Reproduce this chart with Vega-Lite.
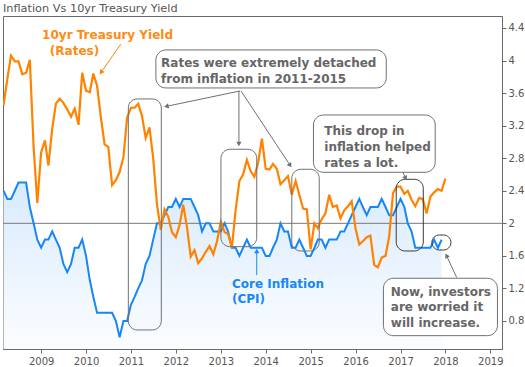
{
  "$schema": "https://vega.github.io/schema/vega-lite/v6.json",
  "width": 499,
  "height": 333,
  "autosize": {"type": "none"},
  "padding": {"left": 3, "top": 16, "right": 23, "bottom": 18},
  "background": "white",
  "title": {"text": "Inflation Vs 10yr Treasury Yield", "anchor": "start", "frame": "group", "offset": 2, "font": "DejaVu Sans", "fontSize": 11.3, "fontWeight": "normal", "color": "#555555"},
  "config": {"view": {"stroke": "#6a6a6a", "strokeWidth": 1}, "font": "DejaVu Sans"},
  "datasets": {
    "series": [
      {"date": "2008-03-01", "rate": 3.45, "cpi": 2.4},
      {"date": "2008-04-01", "rate": 3.77, "cpi": 2.3},
      {"date": "2008-05-01", "rate": 4.06, "cpi": 2.3},
      {"date": "2008-06-01", "rate": 3.99, "cpi": 2.4},
      {"date": "2008-07-01", "rate": 3.99, "cpi": 2.5},
      {"date": "2008-08-01", "rate": 3.83, "cpi": 2.5},
      {"date": "2008-09-01", "rate": 3.85, "cpi": 2.5},
      {"date": "2008-10-01", "rate": 4.01, "cpi": 2.2},
      {"date": "2008-11-01", "rate": 2.93, "cpi": 2.0},
      {"date": "2008-12-01", "rate": 2.25, "cpi": 1.8},
      {"date": "2009-01-01", "rate": 2.87, "cpi": 1.7},
      {"date": "2009-02-01", "rate": 3.02, "cpi": 1.8},
      {"date": "2009-03-01", "rate": 2.71, "cpi": 1.8},
      {"date": "2009-04-01", "rate": 3.16, "cpi": 1.9},
      {"date": "2009-05-01", "rate": 3.47, "cpi": 1.8},
      {"date": "2009-06-01", "rate": 3.53, "cpi": 1.7},
      {"date": "2009-07-01", "rate": 3.48, "cpi": 1.5},
      {"date": "2009-08-01", "rate": 3.40, "cpi": 1.4},
      {"date": "2009-09-01", "rate": 3.31, "cpi": 1.5},
      {"date": "2009-10-01", "rate": 3.41, "cpi": 1.7},
      {"date": "2009-11-01", "rate": 3.21, "cpi": 1.7},
      {"date": "2009-12-01", "rate": 3.85, "cpi": 1.8},
      {"date": "2010-01-01", "rate": 3.63, "cpi": 1.6},
      {"date": "2010-02-01", "rate": 3.61, "cpi": 1.3},
      {"date": "2010-03-01", "rate": 3.84, "cpi": 1.1},
      {"date": "2010-04-01", "rate": 3.69, "cpi": 0.9},
      {"date": "2010-05-01", "rate": 3.31, "cpi": 0.9},
      {"date": "2010-06-01", "rate": 2.97, "cpi": 0.9},
      {"date": "2010-07-01", "rate": 2.94, "cpi": 0.9},
      {"date": "2010-08-01", "rate": 2.47, "cpi": 0.9},
      {"date": "2010-09-01", "rate": 2.53, "cpi": 0.8},
      {"date": "2010-10-01", "rate": 2.63, "cpi": 0.6},
      {"date": "2010-11-01", "rate": 2.81, "cpi": 0.8},
      {"date": "2010-12-01", "rate": 3.30, "cpi": 0.8},
      {"date": "2011-01-01", "rate": 3.42, "cpi": 1.0},
      {"date": "2011-02-01", "rate": 3.42, "cpi": 1.1},
      {"date": "2011-03-01", "rate": 3.47, "cpi": 1.2},
      {"date": "2011-04-01", "rate": 3.32, "cpi": 1.3},
      {"date": "2011-05-01", "rate": 3.05, "cpi": 1.5},
      {"date": "2011-06-01", "rate": 3.18, "cpi": 1.6},
      {"date": "2011-07-01", "rate": 2.80, "cpi": 1.8},
      {"date": "2011-08-01", "rate": 2.23, "cpi": 2.0},
      {"date": "2011-09-01", "rate": 1.92, "cpi": 2.0},
      {"date": "2011-10-01", "rate": 2.17, "cpi": 2.1},
      {"date": "2011-11-01", "rate": 2.08, "cpi": 2.2},
      {"date": "2011-12-01", "rate": 1.89, "cpi": 2.2},
      {"date": "2012-01-01", "rate": 1.83, "cpi": 2.3},
      {"date": "2012-02-01", "rate": 1.98, "cpi": 2.2},
      {"date": "2012-03-01", "rate": 2.23, "cpi": 2.3},
      {"date": "2012-04-01", "rate": 1.95, "cpi": 2.3},
      {"date": "2012-05-01", "rate": 1.59, "cpi": 2.3},
      {"date": "2012-06-01", "rate": 1.67, "cpi": 2.2},
      {"date": "2012-07-01", "rate": 1.51, "cpi": 2.1},
      {"date": "2012-08-01", "rate": 1.57, "cpi": 1.9},
      {"date": "2012-09-01", "rate": 1.65, "cpi": 2.0},
      {"date": "2012-10-01", "rate": 1.72, "cpi": 2.0},
      {"date": "2012-11-01", "rate": 1.62, "cpi": 1.9},
      {"date": "2012-12-01", "rate": 1.78, "cpi": 1.9},
      {"date": "2013-01-01", "rate": 2.02, "cpi": 1.9},
      {"date": "2013-02-01", "rate": 1.89, "cpi": 2.0},
      {"date": "2013-03-01", "rate": 1.87, "cpi": 1.9},
      {"date": "2013-04-01", "rate": 1.70, "cpi": 1.7},
      {"date": "2013-05-01", "rate": 2.16, "cpi": 1.7},
      {"date": "2013-06-01", "rate": 2.52, "cpi": 1.6},
      {"date": "2013-07-01", "rate": 2.60, "cpi": 1.7},
      {"date": "2013-08-01", "rate": 2.78, "cpi": 1.8},
      {"date": "2013-09-01", "rate": 2.64, "cpi": 1.7},
      {"date": "2013-10-01", "rate": 2.57, "cpi": 1.7},
      {"date": "2013-11-01", "rate": 2.75, "cpi": 1.7},
      {"date": "2013-12-01", "rate": 3.04, "cpi": 1.7},
      {"date": "2014-01-01", "rate": 2.67, "cpi": 1.6},
      {"date": "2014-02-01", "rate": 2.66, "cpi": 1.6},
      {"date": "2014-03-01", "rate": 2.73, "cpi": 1.7},
      {"date": "2014-04-01", "rate": 2.67, "cpi": 1.8},
      {"date": "2014-05-01", "rate": 2.48, "cpi": 2.0},
      {"date": "2014-06-01", "rate": 2.53, "cpi": 1.9},
      {"date": "2014-07-01", "rate": 2.58, "cpi": 1.9},
      {"date": "2014-08-01", "rate": 2.35, "cpi": 1.7},
      {"date": "2014-09-01", "rate": 2.52, "cpi": 1.7},
      {"date": "2014-10-01", "rate": 2.35, "cpi": 1.8},
      {"date": "2014-11-01", "rate": 2.18, "cpi": 1.7},
      {"date": "2014-12-01", "rate": 2.17, "cpi": 1.6},
      {"date": "2015-01-01", "rate": 1.68, "cpi": 1.6},
      {"date": "2015-02-01", "rate": 2.00, "cpi": 1.7},
      {"date": "2015-03-01", "rate": 1.94, "cpi": 1.8},
      {"date": "2015-04-01", "rate": 2.05, "cpi": 1.8},
      {"date": "2015-05-01", "rate": 2.12, "cpi": 1.7},
      {"date": "2015-06-01", "rate": 2.35, "cpi": 1.8},
      {"date": "2015-07-01", "rate": 2.20, "cpi": 1.8},
      {"date": "2015-08-01", "rate": 2.22, "cpi": 1.8},
      {"date": "2015-09-01", "rate": 2.06, "cpi": 1.9},
      {"date": "2015-10-01", "rate": 2.16, "cpi": 1.9},
      {"date": "2015-11-01", "rate": 2.21, "cpi": 2.0},
      {"date": "2015-12-01", "rate": 2.27, "cpi": 2.1},
      {"date": "2016-01-01", "rate": 1.94, "cpi": 2.2},
      {"date": "2016-02-01", "rate": 1.74, "cpi": 2.3},
      {"date": "2016-03-01", "rate": 1.78, "cpi": 2.2},
      {"date": "2016-04-01", "rate": 1.83, "cpi": 2.1},
      {"date": "2016-05-01", "rate": 1.85, "cpi": 2.2},
      {"date": "2016-06-01", "rate": 1.49, "cpi": 2.2},
      {"date": "2016-07-01", "rate": 1.46, "cpi": 2.2},
      {"date": "2016-08-01", "rate": 1.58, "cpi": 2.3},
      {"date": "2016-09-01", "rate": 1.60, "cpi": 2.2},
      {"date": "2016-10-01", "rate": 1.84, "cpi": 2.1},
      {"date": "2016-11-01", "rate": 2.37, "cpi": 2.1},
      {"date": "2016-12-01", "rate": 2.45, "cpi": 2.2},
      {"date": "2017-01-01", "rate": 2.45, "cpi": 2.3},
      {"date": "2017-02-01", "rate": 2.36, "cpi": 2.2},
      {"date": "2017-03-01", "rate": 2.40, "cpi": 2.0},
      {"date": "2017-04-01", "rate": 2.29, "cpi": 1.9},
      {"date": "2017-05-01", "rate": 2.21, "cpi": 1.7},
      {"date": "2017-06-01", "rate": 2.31, "cpi": 1.7},
      {"date": "2017-07-01", "rate": 2.30, "cpi": 1.7},
      {"date": "2017-08-01", "rate": 2.12, "cpi": 1.7},
      {"date": "2017-09-01", "rate": 2.33, "cpi": 1.7},
      {"date": "2017-10-01", "rate": 2.38, "cpi": 1.8},
      {"date": "2017-11-01", "rate": 2.42, "cpi": 1.7},
      {"date": "2017-12-01", "rate": 2.40, "cpi": 1.8},
      {"date": "2018-01-01", "rate": 2.55, "cpi": null}
    ],
    "levels": [
      {"date": "2008-02-26", "date2": "2019-04-06", "value": 2}
    ],
    "boxes": [
      {"date": "2010-12-11", "date2": "2011-09-05", "value": 3.528, "value2": 0.690, "kind": "frame"},
      {"date": "2013-01-02", "date2": "2013-10-20", "value": 2.910, "value2": 1.713, "kind": "frame"},
      {"date": "2014-08-01", "date2": "2015-03-12", "value": 2.664, "value2": 1.660, "kind": "frame"},
      {"date": "2016-11-27", "date2": "2017-07-05", "value": 2.541, "value2": 1.660, "kind": "dark"},
      {"date": "2017-09-13", "date2": "2018-02-15", "value": 1.857, "value2": 1.672, "kind": "ring"},
      {"date": "2011-07-23", "date2": "2016-09-07", "value": 4.130, "value2": 3.663, "kind": "text"},
      {"date": "2015-01-24", "date2": "2017-10-10", "value": 3.331, "value2": 2.627, "kind": "text"},
      {"date": "2016-08-15", "date2": "2019-02-28", "value": 1.325, "value2": 0.620, "kind": "text"}
    ],
    "arrows": [
      {"id": "A1", "date": "2010-05-03", "value": 3.853, "date2": "2010-10-10", "value2": 4.200},
      {"id": "A2", "date": "2011-10-16", "value": 3.437, "date2": "2013-06-06", "value2": 3.626},
      {"id": "A3", "date": "2013-05-28", "value": 2.975, "date2": "2013-05-28", "value2": 3.626},
      {"id": "A4", "date": "2014-07-19", "value": 2.711, "date2": "2013-06-14", "value2": 3.626},
      {"id": "A5", "date": "2017-02-11", "value": 2.554, "date2": "2017-01-21", "value2": 2.627},
      {"id": "A6", "date": "2018-01-10", "value": 1.603, "date2": "2018-04-03", "value2": 1.333},
      {"id": "A7", "date": "2013-10-20", "value": 1.660, "date2": "2013-10-20", "value2": 1.366}
    ],
    "notes": [
      {"date": "2009-01-09", "value": 4.265, "text": "10yr Treasury Yield", "kind": "rate"},
      {"date": "2009-03-13", "value": 4.068, "text": "(Rates)", "kind": "rate"},
      {"date": "2011-09-03", "value": 3.921, "text": "Rates were extremely detached", "kind": "note"},
      {"date": "2011-09-03", "value": 3.724, "text": "from inflation in 2011-2015", "kind": "note"},
      {"date": "2015-04-22", "value": 3.086, "text": "This drop in", "kind": "note"},
      {"date": "2015-04-22", "value": 2.889, "text": "inflation helped", "kind": "note"},
      {"date": "2015-04-22", "value": 2.692, "text": "rates a lot.", "kind": "note"},
      {"date": "2016-10-14", "value": 1.108, "text": "Now, investors", "kind": "note"},
      {"date": "2016-10-14", "value": 0.917, "text": "are worried it", "kind": "note"},
      {"date": "2016-10-14", "value": 0.727, "text": "will increase.", "kind": "note"},
      {"date": "2013-04-02", "value": 1.206, "text": "Core Inflation", "kind": "cpi"},
      {"date": "2013-04-02", "value": 1.016, "text": "(CPI)", "kind": "cpi"}
    ]
  },
  "encoding": {
    "x": {"field": "date", "type": "temporal",
      "scale": {"type": "utc", "domain": [{"year": 2008, "month": 2, "date": 26, "utc": true}, {"year": 2019, "month": 4, "date": 6, "utc": true}]},
      "axis": {"title": null, "values": [{"year": 2009, "utc": true}, {"year": 2010, "utc": true}, {"year": 2011, "utc": true}, {"year": 2012, "utc": true}, {"year": 2013, "utc": true}, {"year": 2014, "utc": true}, {"year": 2015, "utc": true}, {"year": 2016, "utc": true}, {"year": 2017, "utc": true}, {"year": 2018, "utc": true}, {"year": 2019, "utc": true}],
        "format": "%Y", "labelFont": "DejaVu Sans", "labelFontSize": 10, "labelColor": "#555555", "tickColor": "#6a6a6a", "domainColor": "#6a6a6a", "tickSize": 4, "labelPadding": 3, "grid": false, "labelFlush": false, "labelOverlap": false}},
    "y": {"field": "value", "type": "quantitative",
      "scale": {"domain": [0.456, 4.547], "zero": false, "nice": false},
      "axis": {"orient": "right", "title": null, "values": [0.8, 1.2, 1.6, 2, 2.4, 2.8, 3.2, 3.6, 4, 4.4], "format": "~g", "labelFont": "DejaVu Sans", "labelFontSize": 10, "labelColor": "#555555", "tickColor": "#6a6a6a", "domainColor": "#6a6a6a", "tickSize": 4, "labelPadding": 2, "grid": false, "labelFlush": false, "labelOverlap": false}}
  },
  "layer": [
    {
      "data": {"name": "series"},
      "transform": [{"fold": ["rate", "cpi"], "as": ["series", "value"]}, {"filter": "datum.series == 'cpi' && datum.value != null"}],
      "mark": {"type": "area", "clip": true, "color": {"gradient": "linear", "x1": 0, "y1": 0, "x2": 0, "y2": 1, "stops": [{"offset": 0, "color": "#d9eafc"}, {"offset": 1, "color": "#fbfdff"}]}},
      "encoding": {"y2": {"datum": 0.456}}
    },
    {
      "data": {"name": "levels"},
      "mark": {"type": "rule", "color": "#777777", "strokeWidth": 1},
      "encoding": {"x2": {"field": "date2"}}
    },
    {
      "data": {"name": "series"},
      "transform": [{"fold": ["rate", "cpi"], "as": ["series", "value"]}, {"filter": "datum.series == 'cpi' && datum.value != null"}],
      "mark": {"type": "line", "clip": true, "color": "#1687f5", "strokeWidth": 2},
      "encoding": {}
    },
    {
      "data": {"name": "series"},
      "transform": [{"fold": ["rate", "cpi"], "as": ["series", "value"]}, {"filter": "datum.series == 'rate'"}],
      "mark": {"type": "line", "clip": true, "color": "#ff8300", "strokeWidth": 2.2},
      "encoding": {}
    },
    {
      "data": {"name": "boxes"},
      "transform": [{"filter": "datum.kind == 'frame'"}],
      "mark": {"type": "rect", "fill": null, "fillOpacity": 0, "stroke": "#707070", "strokeWidth": 1, "cornerRadius": 9},
      "encoding": {"x2": {"field": "date2"}, "y2": {"field": "value2"}}
    },
    {
      "data": {"name": "boxes"},
      "transform": [{"filter": "datum.kind == 'dark'"}],
      "mark": {"type": "rect", "fill": null, "fillOpacity": 0, "stroke": "#3a3a3a", "strokeWidth": 1, "cornerRadius": 9},
      "encoding": {"x2": {"field": "date2"}, "y2": {"field": "value2"}}
    },
    {
      "data": {"name": "boxes"},
      "transform": [{"filter": "datum.kind == 'ring'"}],
      "mark": {"type": "rect", "fill": null, "fillOpacity": 0, "stroke": "#3a3a3a", "strokeWidth": 1, "cornerRadius": 8},
      "encoding": {"x2": {"field": "date2"}, "y2": {"field": "value2"}}
    },
    {
      "data": {"name": "boxes"},
      "transform": [{"filter": "datum.kind == 'text'"}],
      "mark": {"type": "rect", "fill": "white", "stroke": "#707070", "strokeWidth": 1, "cornerRadius": 10},
      "encoding": {"x2": {"field": "date2"}, "y2": {"field": "value2"}}
    },
    {
      "data": {"name": "arrows"},
      "transform": [{"filter": "datum.id != 'A1' && datum.id != 'A7'"}],
      "mark": {"type": "rule", "color": "#707070", "strokeWidth": 1},
      "encoding": {"x2": {"field": "date2"}, "y2": {"field": "value2"}}
    },
    {
      "data": {"name": "arrows"},
      "transform": [{"filter": "datum.id == 'A1'"}],
      "mark": {"type": "rule", "color": "#ff8300", "strokeWidth": 1},
      "encoding": {"x2": {"field": "date2"}, "y2": {"field": "value2"}}
    },
    {
      "data": {"name": "arrows"},
      "transform": [{"filter": "datum.id == 'A7'"}],
      "mark": {"type": "rule", "color": "#1687f5", "strokeWidth": 1},
      "encoding": {"x2": {"field": "date2"}, "y2": {"field": "value2"}}
    },
    {
      "data": {"name": "arrows"},
      "transform": [{"filter": "datum.id == 'A1'"}],
      "mark": {"type": "point", "shape": "triangle-up", "filled": true, "opacity": 1, "size": 28, "angle": 214, "color": "#ff8300"},
      "encoding": {}
    },
    {
      "data": {"name": "arrows"},
      "transform": [{"filter": "datum.id == 'A2'"}],
      "mark": {"type": "point", "shape": "triangle-up", "filled": true, "opacity": 1, "size": 28, "angle": 258, "color": "#707070"},
      "encoding": {}
    },
    {
      "data": {"name": "arrows"},
      "transform": [{"filter": "datum.id == 'A3'"}],
      "mark": {"type": "point", "shape": "triangle-up", "filled": true, "opacity": 1, "size": 28, "angle": 180, "color": "#707070"},
      "encoding": {}
    },
    {
      "data": {"name": "arrows"},
      "transform": [{"filter": "datum.id == 'A4'"}],
      "mark": {"type": "point", "shape": "triangle-up", "filled": true, "opacity": 1, "size": 28, "angle": 146, "color": "#707070"},
      "encoding": {}
    },
    {
      "data": {"name": "arrows"},
      "transform": [{"filter": "datum.id == 'A5'"}],
      "mark": {"type": "point", "shape": "triangle-up", "filled": true, "opacity": 1, "size": 28, "angle": 156, "color": "#707070"},
      "encoding": {}
    },
    {
      "data": {"name": "arrows"},
      "transform": [{"filter": "datum.id == 'A6'"}],
      "mark": {"type": "point", "shape": "triangle-up", "filled": true, "opacity": 1, "size": 28, "angle": 335, "color": "#707070"},
      "encoding": {}
    },
    {
      "data": {"name": "arrows"},
      "transform": [{"filter": "datum.id == 'A7'"}],
      "mark": {"type": "point", "shape": "triangle-up", "filled": true, "opacity": 1, "size": 28, "angle": 0, "color": "#1687f5"},
      "encoding": {}
    },
    {
      "data": {"name": "notes"},
      "transform": [{"filter": "datum.kind == 'note'"}],
      "mark": {"type": "text", "align": "left", "baseline": "alphabetic", "font": "DejaVu Sans", "fontSize": 12, "fontWeight": "bold", "color": "#666666"},
      "encoding": {"text": {"field": "text"}}
    },
    {
      "data": {"name": "notes"},
      "transform": [{"filter": "datum.kind == 'rate'"}],
      "mark": {"type": "text", "align": "left", "baseline": "alphabetic", "font": "DejaVu Sans", "fontSize": 12, "fontWeight": "bold", "color": "#ff8a14"},
      "encoding": {"text": {"field": "text"}}
    },
    {
      "data": {"name": "notes"},
      "transform": [{"filter": "datum.kind == 'cpi'"}],
      "mark": {"type": "text", "align": "left", "baseline": "alphabetic", "font": "DejaVu Sans", "fontSize": 12, "fontWeight": "bold", "color": "#1687f5"},
      "encoding": {"text": {"field": "text"}}
    }
  ]
}
